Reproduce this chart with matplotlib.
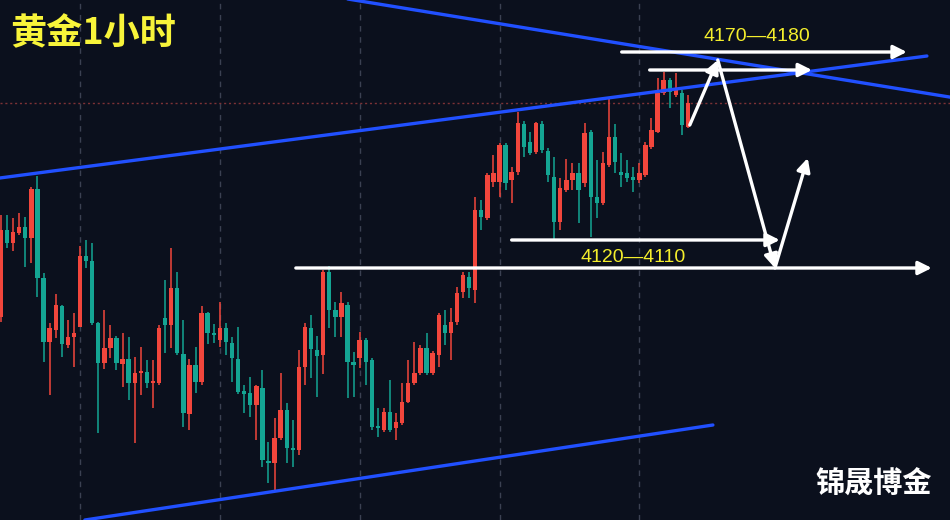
import numpy as np
import matplotlib.pyplot as plt

# hourly gold candles (oldest first)
opens = [4099.9, 4126.0, 4122.1, 4125.1, 4126.9, 4123.6, 4138.3, 4111.6, 4092.4, 4096.0,
         4103.2, 4091.5, 4093.9, 4096.9, 4118.2, 4116.7, 4098.1, 4086.1, 4090.6, 4093.6,
         4085.8, 4087.3, 4080.1, 4083.1, 4083.4, 4080.1, 4080.1, 4099.6, 4097.5, 4108.6,
         4088.8, 4070.8, 4085.5, 4080.4, 4101.1, 4095.1, 4093.0, 4096.6, 4092.1, 4087.3,
         4077.7, 4077.1, 4073.5, 4078.6, 4056.7, 4056.1, 4063.6, 4072.0, 4060.6, 4060.0,
         4084.9, 4096.6, 4090.0, 4088.5, 4113.4, 4102.0, 4099.9, 4103.5, 4086.4, 4087.6,
         4093.0, 4087.0, 4066.9, 4066.0, 4071.4, 4066.6, 4068.1, 4074.4, 4080.1, 4083.1,
         4090.6, 4083.1, 4088.5, 4097.5, 4095.1, 4098.4, 4107.4, 4111.9, 4108.0, 4132.0,
         4129.6, 4140.4, 4140.4, 4151.5, 4141.0, 4143.4, 4157.8, 4152.4, 4149.4, 4157.8,
         4149.7, 4141.9, 4128.4, 4138.0, 4141.0, 4143.1, 4140.1, 4155.4, 4135.9, 4134.1,
         4145.5, 4153.9, 4143.4, 4143.1, 4141.9, 4141.0, 4142.5, 4150.9, 4155.4, 4167.1,
         4171.0, 4166.5, 4167.1, 4156.9]
highs = [4130.5, 4130.5, 4129.6, 4131.1, 4129.9, 4138.9, 4142.2, 4113.1, 4098.1, 4106.8,
         4103.5, 4099.0, 4101.1, 4121.2, 4123.0, 4122.1, 4098.4, 4102.0, 4097.5, 4094.2,
         4095.1, 4093.9, 4087.9, 4090.9, 4087.0, 4087.0, 4097.5, 4111.0, 4120.6, 4113.4,
         4099.0, 4087.3, 4090.9, 4103.2, 4101.4, 4097.8, 4104.4, 4098.1, 4093.9, 4096.9,
         4079.5, 4081.9, 4079.5, 4084.0, 4062.4, 4069.6, 4083.1, 4074.1, 4069.0, 4090.0,
         4098.1, 4100.5, 4094.2, 4114.0, 4115.2, 4104.4, 4107.4, 4104.4, 4089.4, 4095.4,
         4093.6, 4087.6, 4072.6, 4072.6, 4081.0, 4071.1, 4080.1, 4087.0, 4092.4, 4091.5,
         4095.1, 4089.7, 4101.1, 4102.0, 4102.6, 4108.9, 4113.4, 4113.4, 4135.9, 4135.0,
         4143.1, 4148.5, 4152.1, 4152.1, 4144.9, 4161.4, 4158.7, 4155.4, 4158.4, 4158.7,
         4150.6, 4147.9, 4141.6, 4147.3, 4146.1, 4146.1, 4158.1, 4156.0, 4147.0, 4149.4,
         4165.3, 4157.8, 4149.1, 4147.0, 4144.9, 4146.1, 4152.4, 4159.6, 4171.6, 4173.4,
         4171.6, 4173.1, 4168.0, 4166.5]
lows = [4098.4, 4120.6, 4119.7, 4124.5, 4114.9, 4116.1, 4105.9, 4086.4, 4076.5, 4093.6,
        4087.9, 4090.6, 4084.9, 4096.9, 4114.6, 4097.5, 4065.1, 4084.3, 4087.6, 4084.0,
        4078.9, 4075.0, 4062.1, 4076.5, 4078.6, 4072.6, 4079.5, 4089.1, 4090.6, 4088.5,
        4066.9, 4066.0, 4077.1, 4079.5, 4091.8, 4092.1, 4090.9, 4088.5, 4080.4, 4076.8,
        4071.1, 4069.9, 4063.0, 4054.9, 4050.1, 4048.0, 4063.0, 4056.1, 4054.9, 4058.5,
        4079.5, 4081.6, 4075.9, 4082.8, 4096.6, 4093.9, 4093.9, 4075.6, 4075.9, 4084.6,
        4079.5, 4066.0, 4063.9, 4065.4, 4065.4, 4063.0, 4067.5, 4074.1, 4079.5, 4082.5,
        4082.5, 4082.5, 4084.9, 4091.5, 4087.0, 4097.5, 4105.6, 4105.6, 4104.1, 4126.0,
        4129.0, 4138.9, 4135.9, 4138.0, 4134.1, 4142.5, 4147.9, 4148.5, 4148.8, 4149.1,
        4140.4, 4123.0, 4126.0, 4137.4, 4138.0, 4128.1, 4138.9, 4123.9, 4129.6, 4133.5,
        4144.9, 4143.1, 4138.9, 4140.4, 4137.4, 4140.1, 4141.9, 4150.3, 4155.1, 4166.5,
        4162.6, 4165.9, 4154.5, 4156.6]
closes = [4126.0, 4122.1, 4125.4, 4126.9, 4123.6, 4138.3, 4111.6, 4092.4, 4096.6, 4103.5,
          4091.8, 4093.9, 4095.1, 4118.2, 4116.7, 4098.1, 4086.1, 4090.6, 4093.6, 4086.1,
          4087.3, 4080.1, 4083.1, 4083.4, 4080.1, 4080.7, 4096.6, 4097.5, 4108.6, 4089.1,
          4071.1, 4085.5, 4080.4, 4101.1, 4095.1, 4094.5, 4096.6, 4092.4, 4087.6, 4077.4,
          4076.8, 4073.5, 4079.2, 4057.0, 4056.1, 4063.6, 4072.0, 4060.6, 4060.0, 4084.9,
          4096.9, 4090.3, 4088.2, 4113.4, 4102.0, 4099.9, 4104.1, 4086.4, 4085.5, 4093.0,
          4086.4, 4066.9, 4066.6, 4071.4, 4066.0, 4068.4, 4074.4, 4080.1, 4083.1, 4090.6,
          4083.1, 4089.1, 4100.5, 4095.1, 4098.4, 4107.1, 4112.5, 4108.6, 4132.0, 4129.9,
          4142.5, 4143.1, 4151.5, 4140.1, 4143.4, 4158.1, 4150.9, 4149.1, 4158.1, 4150.0,
          4142.5, 4128.4, 4138.6, 4141.0, 4143.1, 4138.0, 4155.1, 4135.9, 4134.1, 4146.1,
          4153.9, 4146.4, 4142.5, 4141.6, 4141.0, 4143.1, 4151.5, 4156.0, 4167.1, 4171.0,
          4167.4, 4168.6, 4157.5, 4164.1]

# day separators (every 23 bars)
day_bars = [13, 36, 59, 82, 105]

# trend lines: (bar, price) end points
upper_channel = [(-0.2, 4141.6), (152.3, 4178.2)]
falling_line = [(54.0, 4196.2), (157.0, 4165.6)]
lower_channel = [(13.8, 4039.0), (117.1, 4067.5)]

# target zones: (price, start bar, end bar)
zone_arrows = [(4179.4, 102.1, 149.0), (4174.0, 106.7, 133.4),
               (4123.0, 84.0, 128.1), (4114.6, 48.5, 153.1)]
# expected path
path_bars = [113.3, 117.9, 127.3, 132.7]
path_prices = [4157.5, 4177.0, 4114.6, 4147.6]

bg = "#0b101d"
up_col = "#f2463c"
down_col = "#14a593"

fig = plt.figure(figsize=(9.5, 5.2), dpi=100, facecolor=bg)
ax = fig.add_axes([0, 0, 1, 1])
ax.set_facecolor(bg)
ax.set_xlim(-0.16, 156.1)
ax.set_ylim(4039, 4195)
ax.axis("off")

for d in day_bars:
    ax.axvline(d, color="#3b4152", lw=1, ls=(0, (4, 4)), zorder=1)

ax.axhline(closes[-1], color="#7d3236", lw=1, ls=(0, (1.5, 2)), zorder=1)

x = np.arange(len(opens))
o = np.array(opens)
c = np.array(closes)
cols = [up_col if cc >= oo else down_col for oo, cc in zip(o, c)]
ax.vlines(x, lows, highs, colors=cols, lw=1.1, zorder=3)
body_lo = np.minimum(o, c)
body_h = np.maximum(np.abs(c - o), 0.5)
ax.bar(x, body_h, bottom=body_lo, width=0.72, color=cols, zorder=4)

for line in [upper_channel, falling_line, lower_channel]:
    xs, ys = zip(*line)
    ax.plot(xs, ys, color="#2150ff", lw=2.4, zorder=5, solid_capstyle="round")

arrow = dict(arrowstyle="-|>", color="white", lw=2.4, mutation_scale=20,
             shrinkA=0, shrinkB=0)
for price, b0, b1 in zone_arrows:
    ax.annotate("", xy=(b1, price), xytext=(b0, price), arrowprops=arrow, zorder=6)

for k in range(len(path_bars) - 1):
    ax.annotate("", xy=(path_bars[k + 1], path_prices[k + 1]),
                xytext=(path_bars[k], path_prices[k]), arrowprops=arrow, zorder=6)

cjk = ["Noto Sans CJK SC", "DejaVu Sans"]
fig.text(0.011, 0.936, "黄金1小时", family=cjk, fontsize=26, fontweight="bold",
         color="#f8f43a", va="center", ha="left")
fig.text(0.797, 0.929, "4170—4180", family=["Liberation Sans", "DejaVu Sans"],
         fontsize=14, color="#f4ee2c", va="center", ha="center")
fig.text(0.666, 0.504, "4120—4110", family=["Liberation Sans", "DejaVu Sans"],
         fontsize=14, color="#f4ee2c", va="center", ha="center")
fig.text(0.92, 0.069, "锦晟博金", family=cjk, fontsize=21, fontweight="bold",
         color="white", va="center", ha="center")

fig.savefig("out.png", dpi=100, facecolor=bg)
